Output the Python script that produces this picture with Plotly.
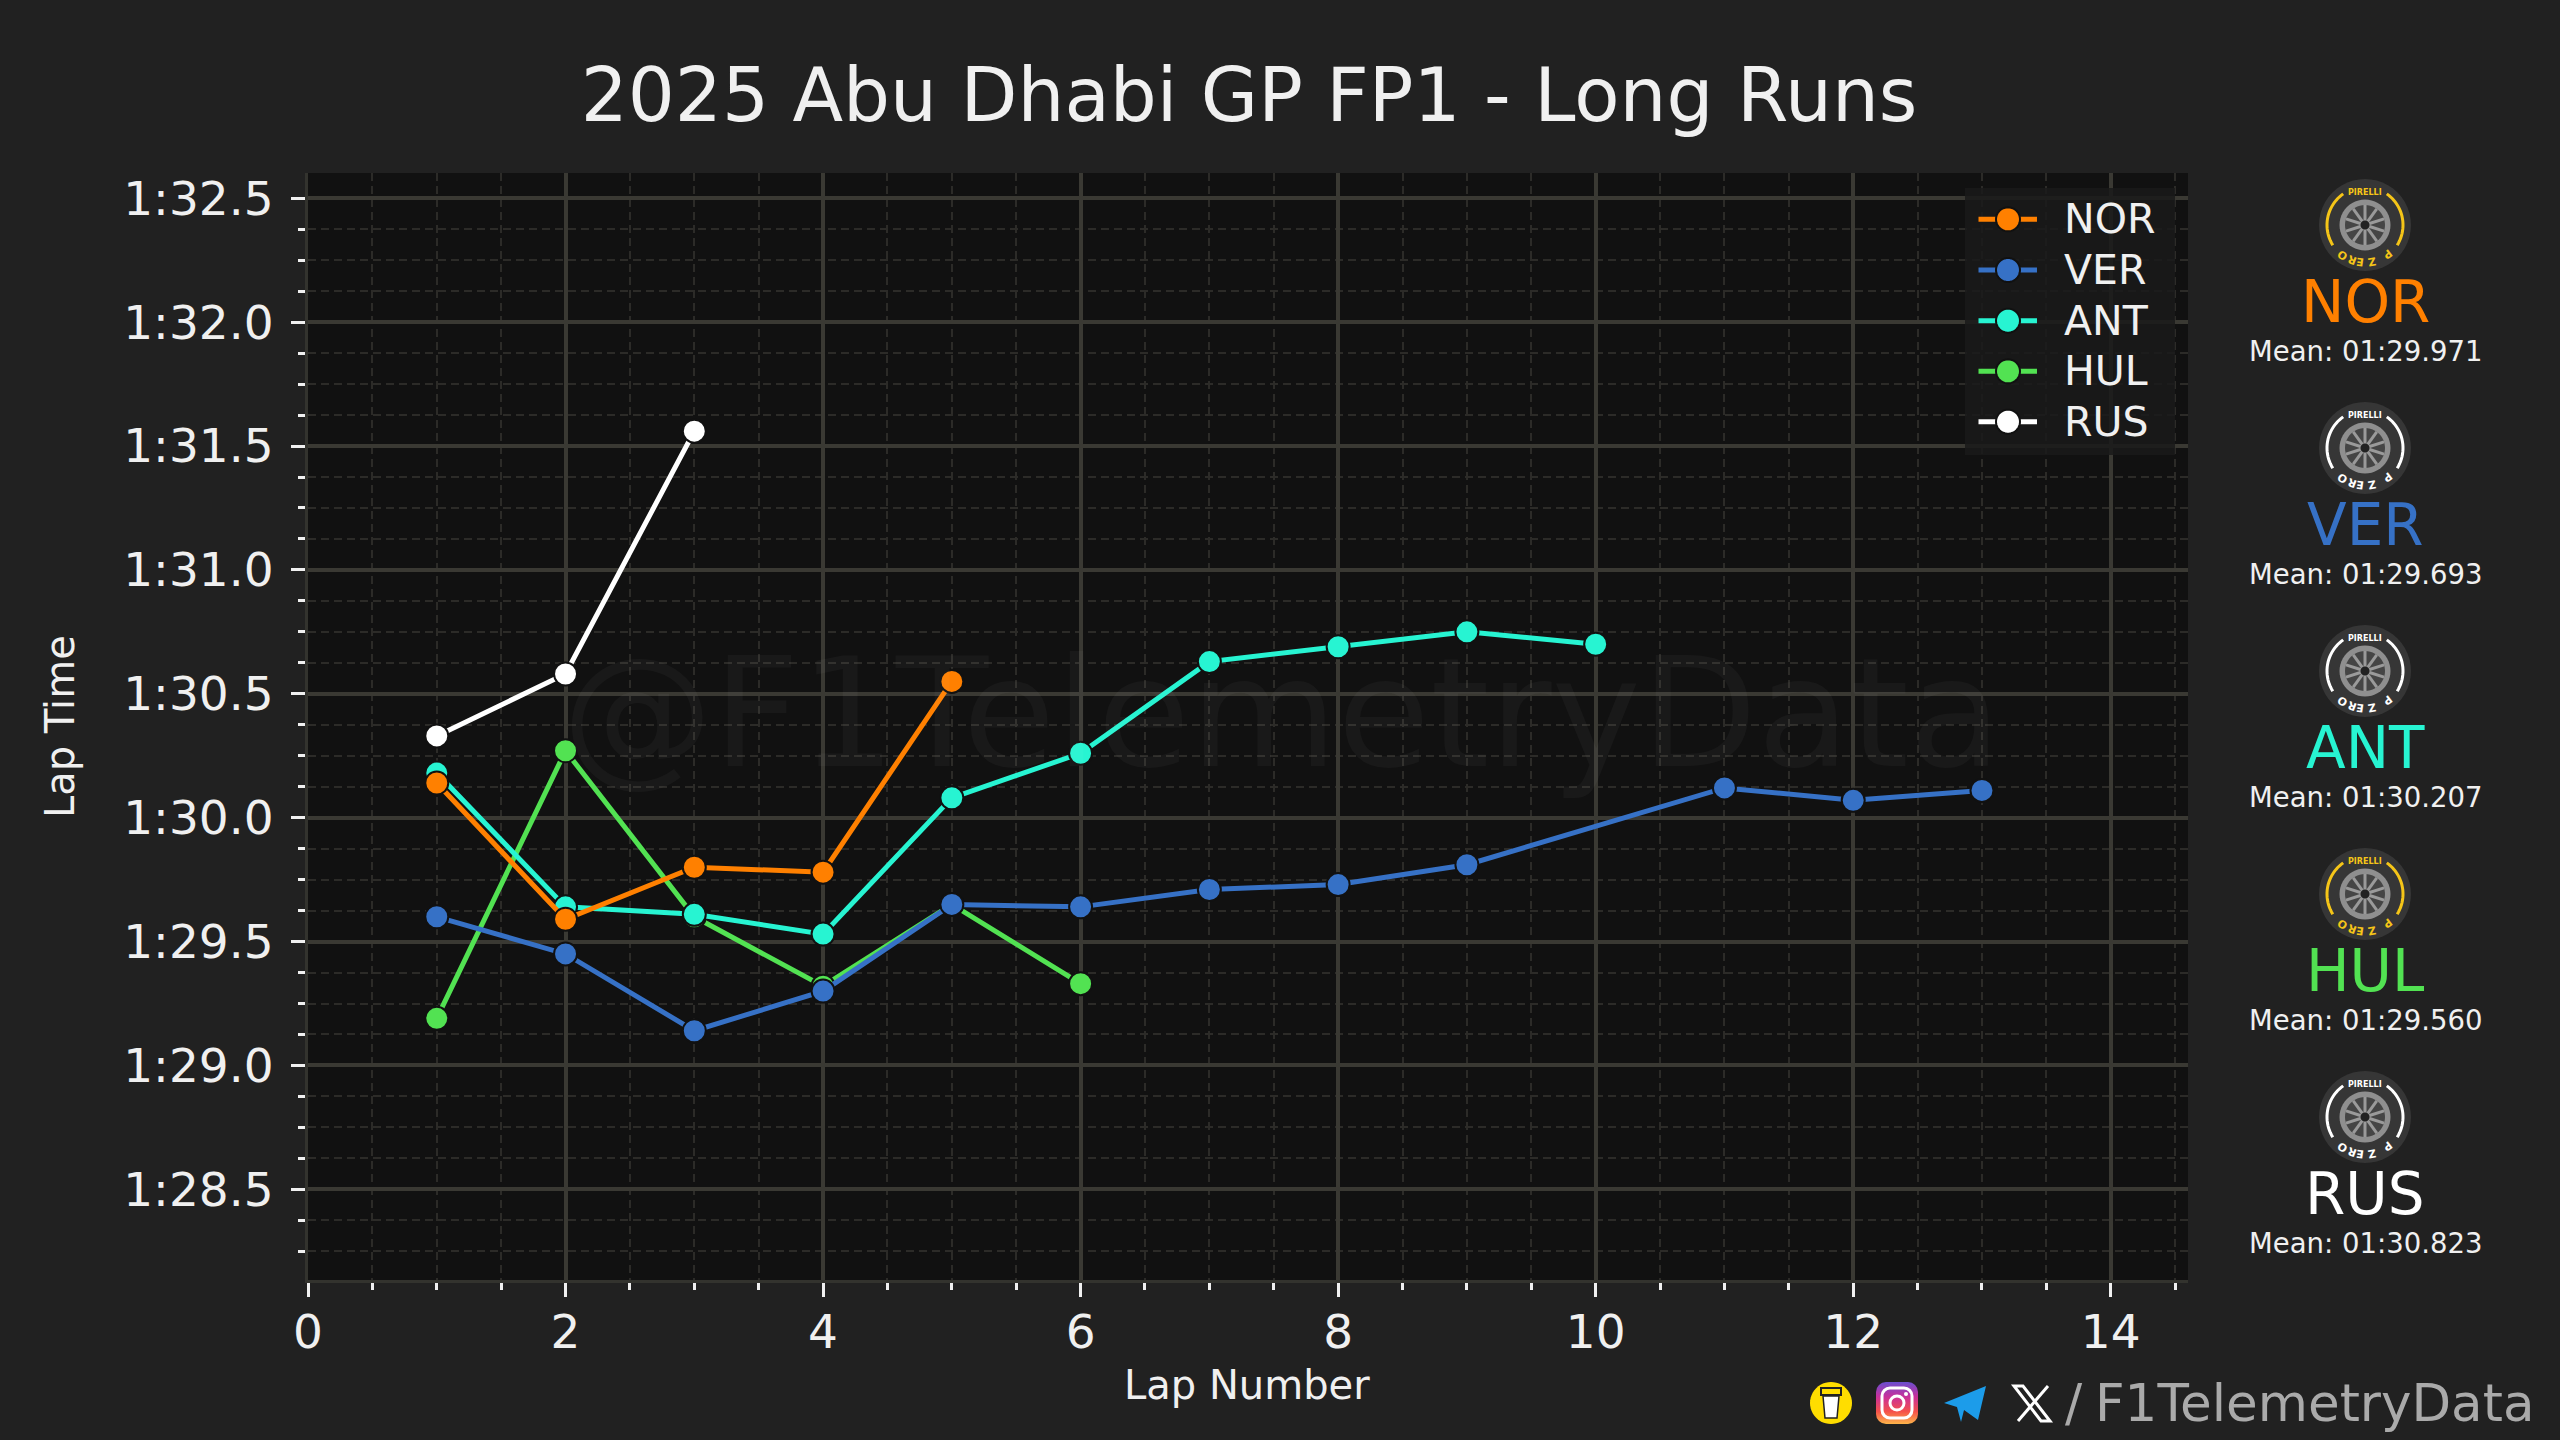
import base64
import numpy as np
import plotly.graph_objects as go

W, H = 2560, 1440
FONT = 'DejaVu Sans'
BG = '#212121'
PLOT_BG = '#111111'
GRID = '#3a3933'
MINOR_GRID = '#2c2b28'

# Lap times in seconds
nor_laps = [1, 2, 3, 4, 5]
nor_times = [90.14, 89.59, 89.80, 89.78, 90.55]
ver_laps = [1, 2, 3, 4, 5, 6, 7, 8, 9, 11, 12, 13]
ver_times = [89.60, 89.45, 89.14, 89.30, 89.65, 89.64, 89.71, 89.73, 89.81, 90.12, 90.07, 90.11]
ant_laps = [1, 2, 3, 4, 5, 6, 7, 8, 9, 10]
ant_times = [90.18, 89.64, 89.61, 89.53, 90.08, 90.26, 90.63, 90.69, 90.75, 90.70]
hul_laps = [1, 2, 3, 4, 5, 6]
hul_times = [89.19, 90.27, 89.60, 89.32, 89.65, 89.33]
rus_laps = [1, 2, 3]
rus_times = [90.33, 90.58, 91.56]

drivers = ['NOR', 'VER', 'ANT', 'HUL', 'RUS']
driver_colors = ['#FF8000', '#3671C6', '#27F4D2', '#52E252', '#FFFFFF']
driver_laps = [nor_laps, ver_laps, ant_laps, hul_laps, rus_laps]
driver_times = [nor_times, ver_times, ant_times, hul_times, rus_times]
mean_labels = ['Mean: 01:29.971', 'Mean: 01:29.693', 'Mean: 01:30.207', 'Mean: 01:29.560', 'Mean: 01:30.823']
tyre_colors = ['#F5C518', '#FFFFFF', '#FFFFFF', '#F5C518', '#FFFFFF']

y_tick_vals = [88.5, 89.0, 89.5, 90.0, 90.5, 91.0, 91.5, 92.0, 92.5]
y_tick_text = ['1:28.5', '1:29.0', '1:29.5', '1:30.0', '1:30.5', '1:31.0', '1:31.5', '1:32.0', '1:32.5']


# Pixel positions to paper coordinates (margins are zero so they are the same thing)
def px(x):
    return x / W


def py(y):
    return 1 - y / H


def poly_path(points, close=True):
    parts = [f'{"M" if i == 0 else "L"} {px(x):.5f} {py(y):.5f}' for i, (x, y) in enumerate(points)]
    return ' '.join(parts) + (' Z' if close else '')


def circle_path(cx, cy, r, n=48):
    a = np.linspace(0, 2 * np.pi, n, endpoint=False)
    return poly_path(list(zip(cx + r * np.cos(a), cy + r * np.sin(a))))


def arc_path(cx, cy, r, start, end, n=24):
    # angles in degrees, clockwise from the top of the wheel
    a = np.radians(np.linspace(start, end, n))
    return poly_path(list(zip(cx + r * np.sin(a), cy - r * np.cos(a))), close=False)


shapes = []
annotations = []


def add_path(path, fill=None, line=None, width=0):
    shapes.append(dict(type='path', path=path, xref='paper', yref='paper', layer='above',
                       fillcolor=fill if fill else 'rgba(0,0,0,0)',
                       line=dict(color=line if line else 'rgba(0,0,0,0)', width=width)))


def add_text(x, y, text, size, color, angle=0, xanchor='center'):
    annotations.append(dict(x=px(x), y=py(y), xref='paper', yref='paper', text=text, showarrow=False,
                            xanchor=xanchor, yanchor='middle', textangle=angle,
                            font=dict(family=FONT, size=size, color=color)))


# Tyre icon
def draw_tyre(cx, cy, color):
    add_path(circle_path(cx, cy, 46), fill='#363636')
    add_path(arc_path(cx, cy, 38, 35, 122), line=color, width=3)
    add_path(arc_path(cx, cy, 38, -122, -35), line=color, width=3)
    add_path(circle_path(cx, cy, 25.5), fill='#8f8f8f')
    add_path(circle_path(cx, cy, 20), fill='#454545')
    for a in np.arange(0, 360, 36):
        add_path(poly_path([(cx + 4 * np.sin(np.radians(a)), cy - 4 * np.cos(np.radians(a))),
                            (cx + 20 * np.sin(np.radians(a)), cy - 20 * np.cos(np.radians(a)))],
                           close=False), line='#9a9a9a', width=3)
    add_path(circle_path(cx, cy, 4.5), fill='#222222')
    add_text(cx, cy - 32.5, '<b>PIRELLI</b>', 8, color)
    for letter, a in zip('PZERO', [142, 170, 188, 201, 216]):
        r = np.radians(a)
        add_text(cx + 37 * np.sin(r), cy - 37 * np.cos(r), f'<b>{letter}</b>', 11, color, angle=a)


panel_x = 2365
tyre_ys = [225, 448, 671, 894, 1117]
for name, col, mean, tcol, ty in zip(drivers, driver_colors, mean_labels, tyre_colors, tyre_ys):
    draw_tyre(panel_x, ty, tcol)
    add_text(panel_x, ty + 77, name, 58, col)
    add_text(panel_x, ty + 126, mean, 27.5, '#F0F0F0')

# Watermark
add_text(1281, 714, '@F1TelemetryData', 151, 'rgba(255,255,255,0.035)')

# Legend drawn by hand, plotly caps its legend markers below the size used here
shapes.append(dict(type='rect', xref='paper', yref='paper', layer='above', x0=px(1965), x1=px(2175),
                   y0=py(188), y1=py(455), fillcolor='rgba(26,26,26,0.85)', line=dict(width=0)))
legend_ys = [219.3, 270, 320.7, 371.3, 421.7]
for name, col, ly in zip(drivers, driver_colors, legend_ys):
    add_path(poly_path([(1978.5, ly), (2037, ly)], close=False), line=col, width=5)
    add_path(circle_path(2008, ly, 12), fill=col, line='#111111', width=2)
    add_text(2062, ly, name, 41, '#F0F0F0', xanchor='left')

# Axis titles
add_text(60, 727, 'Lap Time', 40, '#F0F0F0', angle=-90)
add_text(1247, 1385, 'Lap Number', 40, '#F0F0F0')

# Footer icons
cup_a = np.linspace(0, 2 * np.pi, 48, endpoint=False)
add_path(poly_path(list(zip(1831 + 21 * np.cos(cup_a), 1403 + 21 * np.sin(cup_a)))), fill='#FFDD00')
add_path(poly_path([(1823, 1396), (1839, 1396), (1837, 1418), (1825, 1418)]), fill='#FFFFFF', line='#222222', width=1.5)
add_path(poly_path([(1821, 1388), (1841, 1388), (1841, 1395), (1821, 1395)]), fill='#FFDD00', line='#222222', width=2)

insta_svg = ('<svg xmlns="http://www.w3.org/2000/svg" viewBox="0 0 42 42">'
             '<defs><linearGradient id="g" x1="0" y1="0" x2="0" y2="1">'
             '<stop offset="0" stop-color="#6a4fd0"/><stop offset="0.35" stop-color="#c92f9b"/>'
             '<stop offset="0.7" stop-color="#f5504a"/><stop offset="1" stop-color="#fdb54a"/>'
             '</linearGradient></defs><rect width="42" height="42" rx="10" fill="url(#g)"/>'
             '<rect x="6" y="6" width="30" height="30" rx="8" fill="none" stroke="#fff" stroke-width="3"/>'
             '<circle cx="21" cy="21" r="7" fill="none" stroke="#fff" stroke-width="3"/>'
             '<circle cx="30" cy="12" r="2" fill="#fff"/></svg>')
insta_src = 'data:image/svg+xml;base64,' + base64.b64encode(insta_svg.encode()).decode()

add_path(poly_path([(1944, 1403), (1986, 1386), (1978, 1420), (1964, 1410), (1961, 1422), (1957, 1407)]), fill='#1C9CEA')
add_path(poly_path([(2014, 1386), (2023, 1386), (2050, 1421), (2041, 1421)]), line='#FFFFFF', width=3)
add_path(poly_path([(2048, 1386), (2018, 1421)], close=False), line='#FFFFFF', width=3)
add_text(2074, 1403, '/', 51, '#AAAAAA')
add_text(2093, 1403, 'F1TelemetryData', 51.5, '#AAAAAA', xanchor='left')

fig = go.Figure()
# Reversed so NOR ends up on top, same stacking as the source chart
for name, col, laps, times in reversed(list(zip(drivers, driver_colors, driver_laps, driver_times))):
    fig.add_trace(go.Scatter(x=laps, y=times, mode='lines+markers', name=name, showlegend=False,
                             line=dict(color=col, width=5),
                             marker=dict(color=col, size=23, line=dict(color='#111111', width=2))))

fig.update_layout(
    width=W, height=H,
    margin=dict(l=0, r=0, t=0, b=0),
    paper_bgcolor=BG,
    plot_bgcolor=PLOT_BG,
    font=dict(family=FONT, color='#F0F0F0'),
    title=dict(text='2025 Abu Dhabi GP FP1 - Long Runs', x=1249 / W, y=py(95), xanchor='center', yanchor='middle',
               font=dict(family=FONT, size=74, color='#F0F0F0')),
    showlegend=False,
    shapes=shapes,
    annotations=annotations,
    images=[dict(source=insta_src, xref='paper', yref='paper', x=px(1876), y=py(1382),
                 sizex=42 / W, sizey=42 / H, xanchor='left', yanchor='top', layer='above')],
)
fig.update_xaxes(
    domain=[308 / W, 2188 / W], range=[0, 14.6], tickmode='linear', tick0=0, dtick=2, automargin=False,
    showgrid=True, gridcolor=GRID, gridwidth=3.5, zeroline=False,
    showline=True, linecolor='#33332e', linewidth=3,
    ticks='outside', ticklen=14, tickwidth=3, tickcolor='#F0F0F0', ticklabelstandoff=-5,
    tickfont=dict(family=FONT, size=47, color='#F0F0F0'),
    minor=dict(tickmode='linear', tick0=0, dtick=0.5, ticks='outside', ticklen=7, tickwidth=3, tickcolor='#F0F0F0',
               showgrid=True, gridcolor=MINOR_GRID, gridwidth=1.5, griddash='8px,5px'),
)
fig.update_yaxes(
    domain=[1 - 1280 / H, 1 - 173 / H], range=[88.134, 92.602], tickmode='array', automargin=False,
    tickvals=y_tick_vals, ticktext=y_tick_text,
    showgrid=True, gridcolor=GRID, gridwidth=3.5, zeroline=False,
    showline=True, linecolor='#33332e', linewidth=3,
    ticks='outside', ticklen=14, tickwidth=3, tickcolor='#F0F0F0', ticklabelstandoff=8,
    tickfont=dict(family=FONT, size=47, color='#F0F0F0'),
    minor=dict(tickmode='linear', tick0=88, dtick=0.125, ticks='outside', ticklen=7, tickwidth=3, tickcolor='#F0F0F0',
               showgrid=True, gridcolor=MINOR_GRID, gridwidth=1.5, griddash='8px,5px'),
)

fig.write_html("out.html", config={'displayModeBar': False},
               post_script="document.body.style.margin='0';document.body.style.background='#212121';")
